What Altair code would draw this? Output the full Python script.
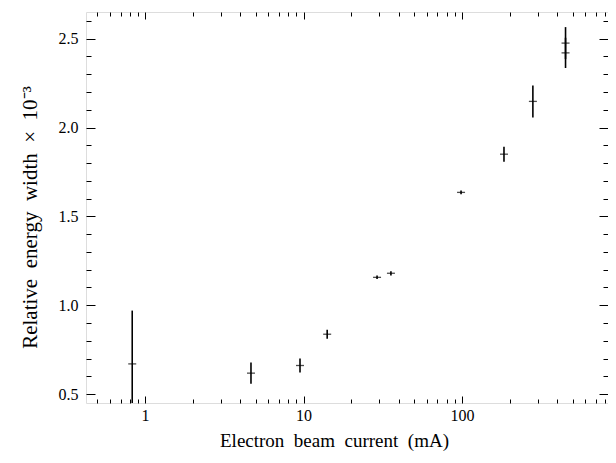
import altair as alt
import pandas as pd

# data
current = [0.83, 4.66, 9.5, 14.1, 29.1, 35.6, 98.6, 184, 280, 450, 450]
rel_width = [0.67, 0.618, 0.661, 0.837, 1.157, 1.180, 1.635, 1.85, 2.147, 2.475, 2.42]
err = [0.30, 0.06, 0.04, 0.025, 0.01, 0.012, 0.01, 0.042, 0.09, 0.09, 0.085]

x_major = [1, 10, 100]
x_minor = [0.5, 0.6, 0.7, 0.8, 0.9, 2, 3, 4, 5, 6, 7, 8, 9,
           20, 30, 40, 50, 60, 70, 80, 90, 200, 300, 400, 500, 600, 700, 800]
y_major = [0.5, 1.0, 1.5, 2.0, 2.5]
y_minor = [0.6, 0.7, 0.8, 0.9, 1.1, 1.2, 1.3, 1.4, 1.6, 1.7, 1.8, 1.9,
           2.1, 2.2, 2.3, 2.4, 2.6]

df = pd.DataFrame({"current": current, "w": rel_width, "err": err})
df["lo"] = df["w"] - df["err"]
df["hi"] = df["w"] + df["err"]

FONT = "Liberation Serif, Times New Roman, serif"
xs = alt.Scale(type="log", domain=[0.424, 834], nice=False)
ys = alt.Scale(domain=[0.45, 2.65], nice=False, zero=False)


def axis(orient, values, size, labels=False, title=None, fmt=None, **extra):
    kw = dict(orient=orient, values=values, tickSize=size, offset=-size,
              domain=False, grid=False, labels=labels, tickColor="black",
              tickWidth=1)
    if labels:
        kw.update(labelFont=FONT, labelFontSize=16, labelColor="black")
        if fmt:
            kw["format"] = fmt
    if title:
        kw.update(title=title, titleFont=FONT,
                  titleFontWeight="normal", titleColor="black")
    else:
        kw["title"] = ""
    kw.update(extra)
    return alt.Axis(**kw)


base = alt.Chart(df)

bars = base.mark_rule(color="black", strokeWidth=1.6, clip=True).encode(
    x=alt.X("current:Q", scale=xs,
            axis=axis("bottom", x_major, 7, True,
                      "Electron\u2002beam\u2002current\u2002(mA)", "~g",
                      labelPadding=4, titleFontSize=19, titlePadding=8,
                      titleX=248)),
    y=alt.Y("lo:Q", scale=ys,
            axis=axis("left", y_major, 9, True,
                      "Relative\u2002energy\u2002width\u2002×\u200210⁻³", ".1f",
                      labelPadding=8, titleFontSize=21, titlePadding=18,
                      titleY=205)),
    y2="hi:Q",
)

cross = base.mark_tick(orient="horizontal", size=8, thickness=1.3, color="black").encode(
    x=alt.X("current:Q", scale=xs, axis=None),
    y=alt.Y("w:Q", scale=ys, axis=None),
)


def ghost(xax, yax):
    return base.mark_point(opacity=0).encode(
        x=alt.X("current:Q", scale=xs, axis=xax),
        y=alt.Y("w:Q", scale=ys, axis=yax),
    )


g1 = ghost(axis("bottom", x_minor, 4), axis("left", y_minor, 5))
g2 = ghost(axis("top", x_major, 7), axis("right", y_major, 9))
g3 = ghost(axis("top", x_minor, 4), axis("right", y_minor, 5))

chart = (
    alt.layer(bars, cross, g1, g2, g3)
    .resolve_axis(x="independent", y="independent")
    .properties(
        width=522, height=391,
        autosize=alt.AutoSizeParams(type="none"),
        padding={"left": 78, "top": 4, "right": 0, "bottom": 50},
    )
    .configure_view(stroke="black", strokeWidth=1.2)
    .configure(background="white")
)

chart.save("out.html", embed_options={"renderer": "svg", "actions": False})
